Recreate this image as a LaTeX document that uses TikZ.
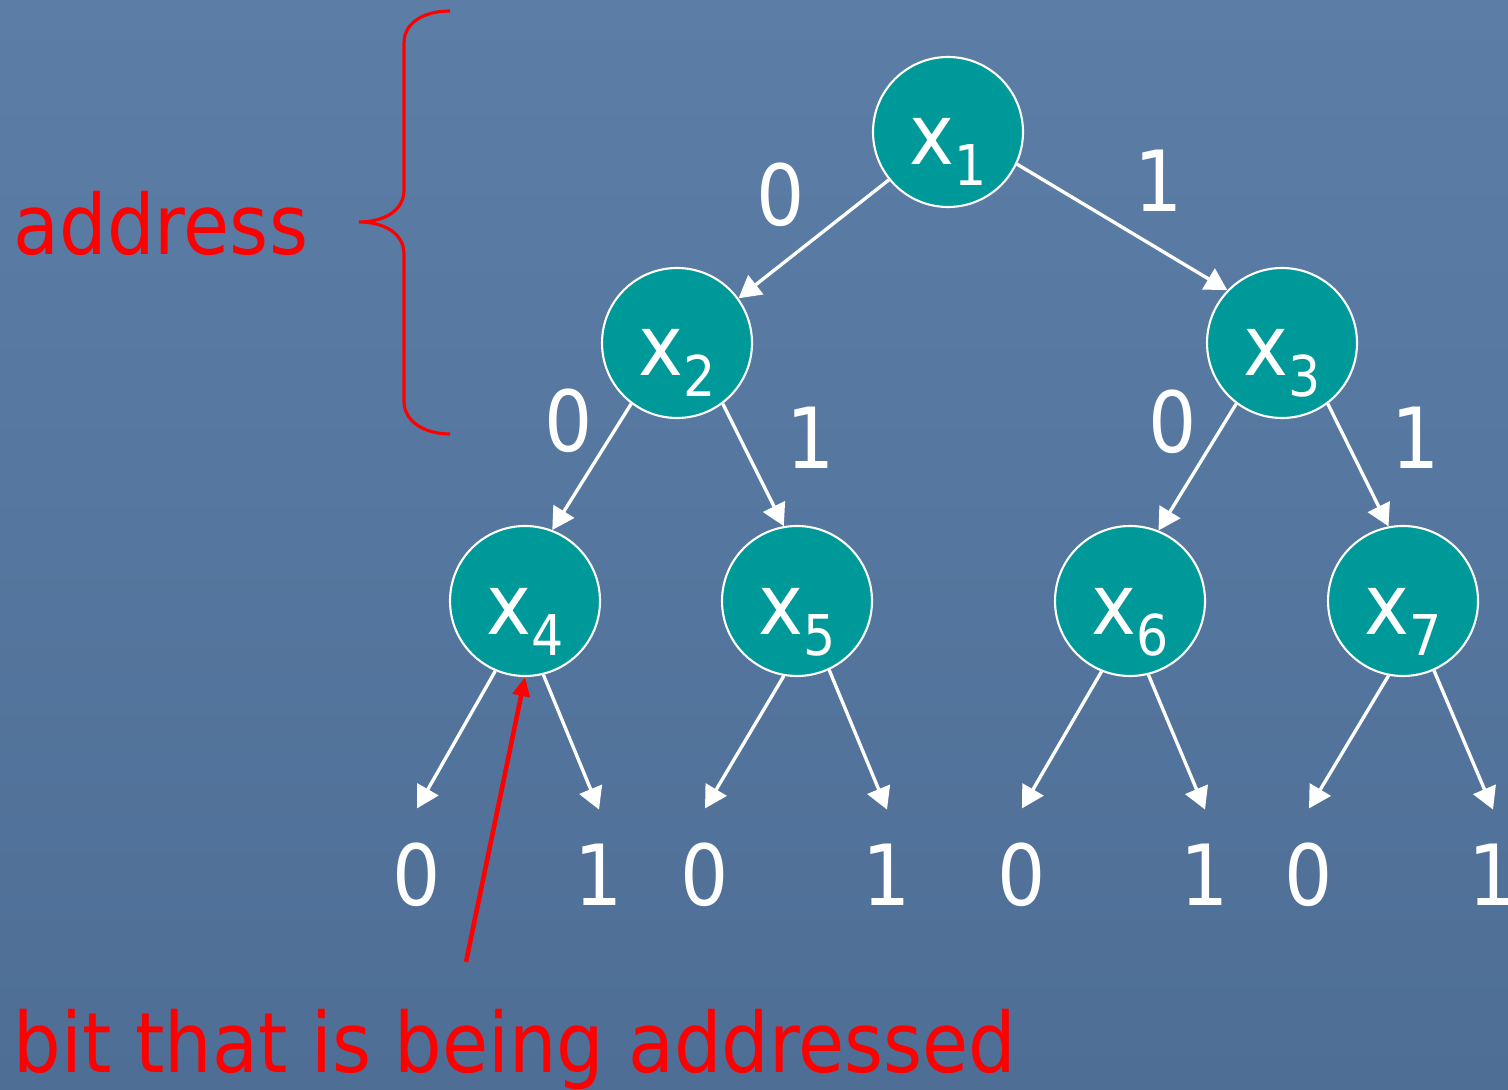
\documentclass[tikz,border=0pt]{standalone}
\usepackage{fontspec}
\setmainfont{DejaVu Sans Condensed}
\usetikzlibrary{arrows.meta, positioning}
\definecolor{slatetop}{RGB}{92,126,166}
\definecolor{slatebottom}{RGB}{78,110,150}
\definecolor{nodeteal}{RGB}{0,153,153}
\definecolor{markred}{RGB}{255,0,0}

% variable name with a lowered index
\newcommand{\xsub}[1]{x\raisebox{-0.21cm}{\fontsize{16}{16}\selectfont #1}}

\begin{document}
\begin{tikzpicture}[
  vnode/.style={circle, draw=white, line width=0.6pt, fill=nodeteal,
                minimum size=1.5cm, inner sep=0pt, text=white,
                font=\fontsize{24}{24}\selectfont, text height=0.66cm, text depth=0pt},
  bit/.style={text=white, inner sep=0pt, font=\fontsize{24}{24}\selectfont},
  note/.style={text=markred, inner sep=0pt, font=\fontsize{23.7}{24}\selectfont},
  arrow/.style={-{Triangle[length=0.22cm, width=0.24cm]}, white, line width=0.95pt},
  pointer/.style={-{Triangle[length=0.19cm, width=0.17cm]}, markred, line width=1.3pt}
]
  \shade[top color=slatetop, bottom color=slatebottom] (0,0) rectangle (15.08,-10.89);
  \useasboundingbox (0,0) rectangle (15.08,-10.89);

  % the tree
  \node[vnode] (x1) at (9.48,-1.32) {\xsub{1}};
  \node[vnode] (x2) at (6.77,-3.43) {\xsub{2}};
  \node[vnode] (x3) at (12.82,-3.43) {\xsub{3}};
  \node[vnode] (x4) at (5.25,-6.01) {\xsub{4}};
  \node[vnode] (x5) at (7.97,-6.01) {\xsub{5}};
  \node[vnode] (x6) at (11.30,-6.01) {\xsub{6}};
  \node[vnode] (x7) at (14.03,-6.01) {\xsub{7}};

  \draw[arrow] (x1.-141) -- (x2.36);
  \draw[arrow] (x1.-25) -- (x3.136);
  \draw[arrow] (x2.-127) -- (x4.69);
  \draw[arrow] (x2.-53) -- (x5.100);
  \draw[arrow] (x3.-127) -- (x6.68);
  \draw[arrow] (x3.-53) -- (x7.101);

  \node[bit] (e10) at (7.81,-1.95) {0};
  \node[bit] (e11) at (11.59,-1.81) {1};
  \node[bit] (e20) at (5.69,-4.21) {0};
  \node[bit] (e21) at (8.11,-4.38) {1};
  \node[bit] (e30) at (11.73,-4.22) {0};
  \node[bit] (e31) at (14.16,-4.38) {1};

  % leaves
  \node[bit] (b40) at (4.17,-8.75) {0};
  \node[bit] (b41) at (5.99,-8.75) {1};
  \node[bit] (b50) at (7.05,-8.75) {0};
  \node[bit] (b51) at (8.87,-8.75) {1};
  \node[bit] (b60) at (10.22,-8.75) {0};
  \node[bit] (b61) at (12.05,-8.75) {1};
  \node[bit] (b70) at (13.09,-8.75) {0};
  \node[bit] (b71) at (14.93,-8.75) {1};

  \coordinate[above=0.34cm of b40] (t40);
  \coordinate[above=0.34cm of b41] (t41);
  \coordinate[above=0.34cm of b50] (t50);
  \coordinate[above=0.34cm of b51] (t51);
  \coordinate[above=0.34cm of b60] (t60);
  \coordinate[above=0.34cm of b61] (t61);
  \coordinate[above=0.34cm of b70] (t70);
  \coordinate[above=0.34cm of b71] (t71);

  \draw[arrow] (x4.-113) -- (t40);
  \draw[arrow] (x4.-76) -- (t41);
  \draw[arrow] (x5.-100) -- (t50);
  \draw[arrow] (x5.-65) -- (t51);
  \draw[arrow] (x6.-112) -- (t60);
  \draw[arrow] (x6.-76) -- (t61);
  \draw[arrow] (x7.-101) -- (t70);
  \draw[arrow] (x7.-66) -- (t71);

  % annotations
  \draw[markred, line width=0.9pt] (4.50,-0.11)
    .. controls (4.25,-0.11) and (4.04,-0.22) .. (4.04,-0.43) -- (4.04,-1.90)
    .. controls (4.04,-2.10) and (3.85,-2.22) .. (3.59,-2.22)
    .. controls (3.85,-2.22) and (4.04,-2.34) .. (4.04,-2.54) -- (4.04,-4.01)
    .. controls (4.04,-4.22) and (4.25,-4.34) .. (4.50,-4.34);
  \node[note, anchor=base west] (addr) at (0.13,-2.55) {address};

  \coordinate (hint) at (4.66,-9.62);
  \draw[pointer] (hint) -- (x4.south);
  \node[note, anchor=base west] (bitnote) at (0.13,-10.72) {bit that is being addressed};
\end{tikzpicture}
\end{document}
